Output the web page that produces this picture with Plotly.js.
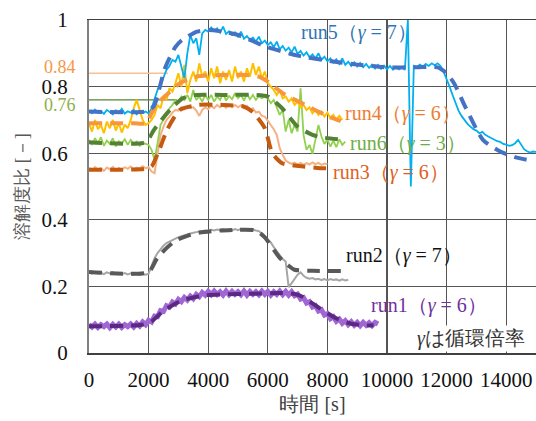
<!DOCTYPE html>
<html><head><meta charset="utf-8">
<script src="https://cdn.plot.ly/plotly-3.0.1.min.js"></script>
<style>html,body{margin:0;padding:0;background:#fff;font-family:'Liberation Serif'}#chart{width:536px;height:421px}
.fw{position:absolute;left:0;top:0;visibility:hidden;font-size:20px;font-family:'Liberation Serif'}</style>
</head><body><span class="fw" aria-hidden="true">0<i>y</i></span><div id="chart"></div>
<script>
// ---- data (time in s, ratio) ----
// noisy measured series: sampled every 100 s starting at 0 s
const run5Meas = [0.728,0.720,0.731,0.722,0.727,0.718,0.730,0.724,0.716,0.729,0.721,0.733,0.719,0.726,0.722,0.730,0.717,0.727,0.721,0.725,0.719,
0.735,0.760,0.790,0.805,0.830,0.850,0.862,0.880,0.875,0.895,0.860,0.825,0.900,0.955,0.930,0.945,0.895,0.960,0.970,
0.965,0.978,0.968,0.975,0.962,0.980,0.958,0.966,0.955,0.963,0.950,0.965,0.944,0.952,0.940,0.947,0.935,0.950,0.930,0.938,
0.925,0.933,0.918,0.935,0.912,0.922,0.908,0.917,0.903,0.920,0.898,0.907,0.893,0.903,0.888,0.897,0.884,0.900,0.880,0.890,
0.876,0.885,0.872,0.882,0.868,0.885,0.865,0.875,0.862,0.873,0.860,0.871,0.858,0.868,0.856,0.866,0.854,0.865,0.853,0.863,
0.852,0.862,0.851,0.860,0.852,0.858,0.850,1.0,0.50,0.862,0.858,0.866,0.860,0.868,0.862,0.870,0.864,0.870,0.862,0.845,
0.825,0.800,0.775,0.748,0.728,0.712,0.700,0.688,0.680,0.672,0.668,0.660,0.664,0.655,0.650,0.645,0.642,0.636,0.634,0.628,
0.626,0.622,0.624,0.630,0.640,0.625,0.612,0.606,0.602,0.605,0.604];
const run4Meas = [0.690,0.665,0.700,0.672,0.685,0.660,0.695,0.675,0.700,0.668,0.690,0.662,0.686,0.675,
0.700,0.735,0.760,0.730,0.700,0.685,0.690,0.700,0.715,0.745,0.735,0.770,0.760,0.795,0.785,0.810,
0.840,0.800,0.865,0.780,0.820,0.845,0.815,0.870,0.830,0.845,0.815,0.855,0.825,0.860,0.810,0.845,0.820,0.850,0.815,0.860,
0.825,0.845,0.815,0.855,0.830,0.870,0.835,0.860,0.825,0.845,0.810,0.800,0.790,0.775,0.790,0.765,0.770,0.755,0.765,0.745,
0.755,0.738,0.745,0.730,0.738,0.720,0.730,0.715,0.725,0.710,0.722,0.705,0.715,0.700,0.712,0.700];
const run6Meas = [0.640,0.625,0.645,0.630,0.648,0.622,0.638,0.628,0.645,0.620,0.636,0.630,0.642,0.625,0.640,0.628,0.635,0.622,0.632,0.628,
0.625,0.610,0.580,0.630,0.685,0.700,0.720,0.735,0.745,0.760,0.755,0.770,0.760,0.775,0.755,0.790,0.760,0.770,0.755,0.775,
0.760,0.775,0.755,0.770,0.760,0.780,0.758,0.772,0.762,0.780,0.765,0.775,0.758,0.778,0.762,0.775,0.760,0.772,0.765,0.770,
0.765,0.750,0.760,0.740,0.715,0.730,0.665,0.700,0.660,0.685,0.665,0.795,0.655,0.610,0.625,0.598,0.640,0.685,0.650,0.628,
0.640,0.620,0.638,0.618,0.642,0.625,0.635];
const run3Meas = [0.556,0.549,0.558,0.551,0.555,0.547,0.557,0.552,0.559,0.548,0.556,0.551,0.558,0.553,0.560,0.552,0.557,0.554,0.561,0.555,0.558,
0.545,0.540,0.600,0.655,0.680,0.700,0.710,0.722,0.730,0.728,0.738,0.732,0.740,0.735,0.738,0.728,0.712,0.730,0.738,
0.732,0.742,0.735,0.745,0.738,0.744,0.736,0.746,0.738,0.745,0.738,0.744,0.735,0.742,0.730,0.735,0.722,0.725,0.712,0.710,
0.698,0.685,0.672,0.655,0.615,0.595,0.578,0.572,0.568,0.572,0.566,0.571,0.565,0.570,0.566,0.572,0.567,0.571,0.565,0.569,0.567];
const run2Meas = [0.242,0.238,0.243,0.239,0.241,0.237,0.242,0.239,0.243,0.238,0.241,0.237,0.240,0.236,0.239,0.235,0.238,0.234,0.237,0.235,0.238,
0.262,0.285,0.300,0.312,0.322,0.330,0.335,0.340,0.344,0.348,0.351,0.354,0.356,0.359,0.361,0.363,0.365,0.366,0.368,
0.367,0.370,0.368,0.371,0.369,0.372,0.369,0.371,0.368,0.372,0.369,0.373,0.370,0.372,0.369,0.371,0.368,0.366,0.358,0.350,
0.340,0.332,0.318,0.305,0.293,0.282,0.275,0.198,0.210,0.222,0.235,0.242,0.232,0.226,0.223,0.225,0.221,0.223,0.219,0.222,
0.218,0.222,0.219,0.221,0.217,0.221,0.218,0.220];
const run1Meas = [0.086,0.078,0.087,0.077,0.085,0.079,0.087,0.076,0.086,0.078,0.087,0.077,0.085,0.079,0.087,0.078,
0.089,0.081,0.093,0.085,0.098,0.093,0.111,0.109,0.127,0.125,0.142,0.138,0.153,0.147,0.161,0.154,0.167,0.159,0.171,0.163,
0.176,0.169,0.182,0.174,
0.185,0.175,0.186,0.176,0.184,0.174,0.186,0.175,0.185,0.176,0.184,0.175,0.186,0.174,0.185,0.176,0.184,0.175,0.186,0.176,
0.185,0.174,0.184,0.176,0.186,0.175,0.185,0.174,0.184,
0.172,0.177,0.162,0.166,0.150,0.154,0.138,0.142,0.126,0.130,0.114,0.118,0.103,0.109,0.095,0.102,0.089,0.097,0.085,0.094,
0.083,0.092,0.082,0.092,0.083,0.091,0.082,0.092,0.087];

// smooth model curves (dashed)
const run5ModelX = [0,1900,2100,2200,2550,2890,3120,3630,4000,4500,5000,6000,7000,8000,9000,10000,11000,11700,12000,12250,12650,13220,13800,14300,14800];
const run5ModelY = [0.725,0.725,0.735,0.745,0.855,0.918,0.940,0.965,0.970,0.965,0.955,0.918,0.893,0.878,0.866,0.858,0.858,0.858,0.840,0.810,0.735,0.640,0.605,0.588,0.578];
const run4ModelX = [0,1500,1900,2250,2600,3050,3600,4500,5300,5700,6000,6500,7150,7950,8450];
const run4ModelY = [0.690,0.690,0.690,0.745,0.775,0.810,0.830,0.835,0.835,0.830,0.815,0.780,0.750,0.714,0.696];
const run6ModelX = [0,1900,2180,2480,2820,3150,3600,4500,5500,6000,6480,7000,7500,7850,8530];
const run6ModelY = [0.633,0.633,0.670,0.705,0.740,0.765,0.775,0.775,0.775,0.770,0.735,0.680,0.655,0.647,0.640];
const run3ModelX = [0,1900,2100,2380,2620,3050,3660,4500,5200,5500,5900,6150,6480,6900,7750,8000];
const run3ModelY = [0.550,0.553,0.560,0.615,0.670,0.730,0.745,0.745,0.740,0.723,0.675,0.600,0.570,0.563,0.555,0.555];
const run2ModelX = [0,2000,2280,2600,2920,3300,3720,4400,5000,5600,5900,6380,6700,6900,7500,8650];
const run2ModelY = [0.243,0.243,0.284,0.315,0.338,0.352,0.362,0.368,0.370,0.368,0.347,0.288,0.262,0.250,0.247,0.246];
const run1ModelX = [0,1780,2100,2520,3120,3860,4570,5500,6480,6900,7180,7750,8300,8800,9300,9550];
const run1ModelY = [0.080,0.085,0.095,0.128,0.158,0.173,0.176,0.178,0.180,0.177,0.168,0.134,0.104,0.088,0.083,0.083];

// reference levels
const refLevels = [0.84, 0.76];
const refEndX = [2650, 2950];
const refLabels = ['0.84', '0.76'];

const xTicks = [0,2000,4000,6000,8000,10000,12000,14000];
const yTicks = [0,0.2,0.4,0.6,0.8,1];
const runLabels = ['run5', 'run4', 'run6', 'run3', 'run2', 'run1'];
const gammas = [7, 6, 3, 6, 7, 6];

// ---- drawing ----
const FONT = 'Liberation Serif';
const meas = (y, color, w) => ({type:'scatter', mode:'lines', x0:0, dx:100, y:y, line:{color:color, width:w}, hoverinfo:'skip'});
const model = (x, y, color) => ({type:'scatter', mode:'lines', x:x, y:y, line:{color:color, width:4, dash:'13px,8px', shape:'spline', smoothing:0.6}, hoverinfo:'skip'});

const traces = [
  {type:'scatter', mode:'lines', x:[0, refEndX[0]], y:[refLevels[0], refLevels[0]], line:{color:'#FAC090', width:1.5}},
  {type:'scatter', mode:'lines', x:[0, refEndX[1]], y:[refLevels[1], refLevels[1]], line:{color:'#548235', width:1.2}},
  meas(run1Meas, '#A066D4', 5),
  meas(run2Meas, '#A6A6A6', 2),
  meas(run3Meas, '#F4B183', 2),
  meas(run6Meas, '#92D050', 1.8),
  meas(run4Meas, '#FFC000', 2),
  meas(run5Meas, '#00B0F0', 1.8),
  model(run1ModelX, run1ModelY, '#5A2A82'),
  model(run2ModelX, run2ModelY, '#595959'),
  model(run3ModelX, run3ModelY, '#C55A11'),
  model(run6ModelX, run6ModelY, '#548235'),
  model(run4ModelX, run4ModelY, '#F7963A'),
  model(run5ModelX, run5ModelY, '#4472C4'),
];

const labelPos = [
  {x:9060, y:0.961, color:'#2E75B6'},
  {x:10537, y:0.72, color:'#ED7D31'},
  {x:10705, y:0.63, color:'#70AD47'},
  {x:10134, y:0.541, color:'#E0601A'},
  {x:10570, y:0.293, color:'#111111'},
  {x:11409, y:0.143, color:'#7030A0'},
];
const annotations = runLabels.map((r, i) => ({
  x: labelPos[i].x, y: labelPos[i].y, xref:'x', yref:'y', showarrow:false,
  text: r + '（<i>γ</i> = ' + gammas[i] + '）',
  font:{family:FONT, size:20, color:labelPos[i].color}
}));
annotations.push({x:12819, y:0.044, xref:'x', yref:'y', showarrow:false, bgcolor:'#ffffff',
  text:'<i>γ</i>は循環倍率', font:{family:FONT, size:20, color:'#333333'}});
const refColors = ['#F79646', '#8DB04A'];
refLevels.forEach((v, i) => annotations.push({x:-0.025, y:v, xref:'paper', yref:'y', xanchor:'right', showarrow:false,
  text:refLabels[i], font:{family:FONT, size:18, color:refColors[i]}, yshift: i === 0 ? 6 : -5}));

const layout = {
  width:536, height:421, showlegend:false,
  font:{family:FONT},
  paper_bgcolor:'#ffffff', plot_bgcolor:'#ffffff',
  margin:{l:89, r:0, t:20, b:68},
  xaxis:{range:[0,15000], tickvals:xTicks, ticktext:xTicks.map(String), showgrid:true, gridcolor:'#555555', gridwidth:1.3,
    zeroline:false, showline:true, linecolor:'#404040', linewidth:1.5, mirror:true,
    ticks:'outside', ticklen:7, tickcolor:'rgba(0,0,0,0)',
    tickfont:{family:FONT, size:21, color:'#111'},
    title:{text:'時間 [s]', font:{family:FONT, size:20, color:'#404040'}, standoff:6}},
  yaxis:{range:[0,1], tickvals:yTicks, ticktext:['0','0.2','0.4','0.6','0.8','1'], showgrid:true, gridcolor:'#555555', gridwidth:1.3,
    zeroline:false, showline:true, linecolor:'#808080', linewidth:2,
    ticks:'outside', ticklen:15, tickcolor:'rgba(0,0,0,0)',
    tickfont:{family:FONT, size:21, color:'#111'},
    title:{text:'溶解度比 [－]', font:{family:FONT, size:18, color:'#595959'}, standoff:8}},
  annotations:annotations
};
const config = {staticPlot:true, displayModeBar:false};
Plotly.newPlot('chart', traces, layout, config);
</script></body></html>
